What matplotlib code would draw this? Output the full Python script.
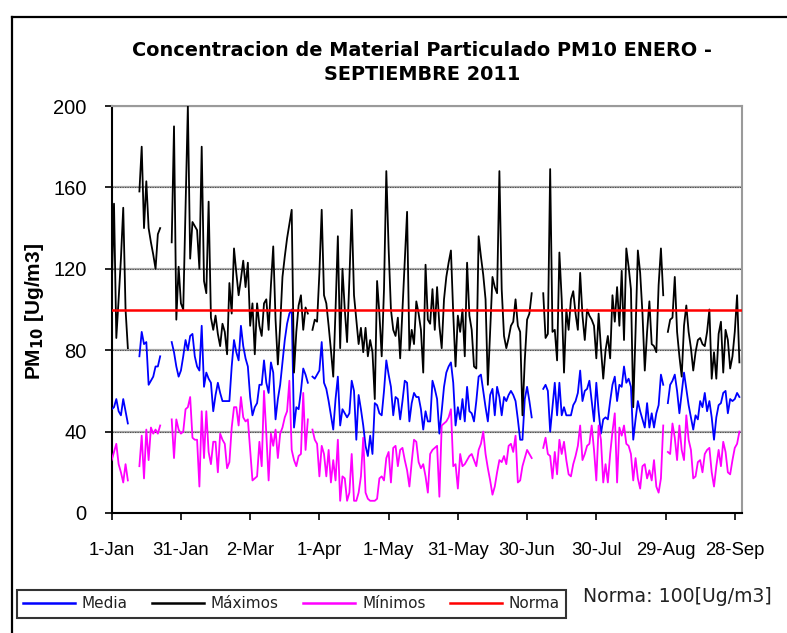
import numpy as np
import pandas as pd
import matplotlib
matplotlib.use("Agg")
import matplotlib.pyplot as plt
from matplotlib.lines import Line2D

nan = np.nan

# ---------------- data (daily values, 2011-01-01 .. 2011-09-30) ----------------
maximos = [
    # Jan
    110, 152, 86, 105, 125, 150, 100, 81, nan, nan, nan, nan, 158, 180, 140, 163,
    140, 133, 127, 120, 137, 140, nan, nan, nan, nan, 133, 190, 95, 121, 103,
    # Feb
    100, 150, 200, 125, 143, 141, 139, 120, 180, 114, 108, 153, 96, 90, 97, 88,
    82, 93, 89, 78, 113, 98, 130, 118, 107, 115, 124, 111,
    # Mar
    123, 92, 103, 78, 103, 92, 87, 103, 105, 90, 112, 131, 95, 73, 92, 116,
    126, 135, 142, 149, 69, 89, 102, 107, 90, 101, 98, nan, 90, 95, 94,
    # Apr
    118, 149, 107, 103, 92, 80, 67, 100, 136, 81, 120, 100, 84, 115, 149, 107,
    95, 83, 91, 79, 91, 77, 85, 79, 56, 114, 98, 77, 110, 168,
    # May
    130, 100, 90, 87, 96, 76, 100, 125, 148, 80, 90, 83, 104, 98, 90, 69,
    122, 95, 93, 110, 90, 111, 92, 81, 105, 116, 123, 129, 98, 72, 97,
    # Jun
    89, 100, 77, 123, 97, 90, 72, 71, 136, 126, 117, 105, 63, 90, 116, 111,
    108, 168, 110, 87, 81, 86, 92, 94, 105, 92, 89, 48, 75, 95,
    # Jul
    98, 108, nan, nan, nan, nan, 108, 86, 88, 169, 89, 90, 75, 128, 105, 69,
    100, 90, 105, 109, 98, 90, 118, 97, 85, 100, 97, 95, 92, 76, 98,
    # Aug
    81, 66, 80, 87, 76, 107, 94, 111, 92, 119, 85, 130, 121, 110, 52, 89,
    129, 118, 98, 70, 89, 104, 83, 82, 79, 112, 130, 107, nan, 89, 95,
    # Sep
    96, 116, 89, 77, 67, 92, 102, 89, 81, 70, 79, 85, 86, 83, 82, 89,
    100, 66, 79, 66, 88, 94, 69, 90, 85, 71, 77, 89, 107, 74,
]

media = [
    # Jan
    51, 52, 56, 50, 48, 56, 50, 44, nan, nan, nan, nan, 77, 89, 83, 84,
    63, 65, 67, 72, 72, 77, nan, nan, nan, nan, 84, 79, 72, 67, 70,
    # Feb
    77, 85, 80, 87, 88, 77, 72, 70, 92, 62, 69, 66, 64, 50, 58, 64,
    59, 55, 55, 55, 55, 72, 85, 79, 75, 92, 82, 76,
    # Mar
    72, 57, 48, 52, 54, 63, 63, 75, 64, 59, 74, 69, 46, 56, 63, 74,
    85, 93, 98, 100, 42, 52, 51, 60, 71, 68, 64, nan, 67, 66, 68,
    # Apr
    70, 84, 64, 61, 55, 48, 41, 56, 67, 43, 51, 49, 47, 49, 65, 60,
    36, 58, 51, 43, 33, 28, 38, 29, 54, 53, 49, 48, 60, 75,
    # May
    68, 62, 48, 57, 56, 46, 55, 65, 64, 45, 54, 59, 57, 57, 51, 41,
    50, 45, 45, 65, 61, 56, 39, 50, 62, 69, 72, 74, 64, 43, 52,
    # Jun
    46, 56, 45, 62, 50, 49, 45, 55, 67, 68, 60, 52, 45, 58, 61, 48,
    62, 57, 48, 57, 55, 58, 60, 58, 55, 46, 36, 36, 56, 62,
    # Jul
    55, 47, nan, nan, nan, nan, 61, 63, 60, 40, 52, 64, 48, 64, 48, 52,
    48, 48, 48, 53, 55, 59, 70, 55, 60, 61, 65, 55, 45, 64, 50,
    # Aug
    39, 46, 47, 46, 55, 63, 67, 55, 63, 62, 72, 64, 66, 62, 36, 46,
    55, 50, 46, 42, 54, 42, 49, 42, 49, 53, 68, 63, nan, 54, 63,
    # Sep
    65, 68, 60, 49, 59, 69, 61, 53, 47, 41, 48, 46, 55, 52, 59, 50,
    55, 47, 36, 47, 53, 54, 59, 60, 49, 56, 55, 56, 59, 57,
]

minimos = [
    # Jan
    26, 30, 34, 24, 20, 15, 24, 16, nan, nan, nan, nan, 23, 38, 17, 41,
    26, 42, 39, 41, 39, 43, nan, nan, nan, nan, 46, 27, 46, 41, 39,
    # Feb
    40, 51, 52, 57, 37, 36, 36, 13, 50, 27, 50, 30, 24, 35, 35, 20,
    39, 36, 34, 22, 25, 42, 52, 52, 43, 57, 47, 45,
    # Mar
    46, 31, 16, 17, 18, 35, 23, 60, 39, 16, 39, 33, 41, 27, 39, 42,
    47, 50, 65, 31, 26, 23, 28, 29, 59, 31, 46, nan, 41, 36, 34,
    # Apr
    18, 33, 29, 18, 31, 15, 26, 16, 36, 6, 18, 17, 6, 10, 29, 6,
    6, 10, 18, 37, 10, 7, 6, 6, 6, 7, 17, 18, 16, 27,
    # May
    30, 15, 32, 33, 23, 31, 32, 26, 21, 13, 25, 36, 35, 25, 22, 24,
    18, 10, 29, 31, 32, 33, 8, 43, 44, 45, 47, 51, 23, 24, 12,
    # Jun
    29, 23, 24, 26, 28, 29, 26, 23, 31, 34, 40, 29, 22, 16, 9, 13,
    20, 26, 25, 28, 24, 33, 34, 30, 38, 15, 16, 23, 27, 31,
    # Jul
    29, 27, nan, nan, nan, nan, 32, 37, 29, 28, 17, 30, 19, 36, 29, 35,
    26, 19, 18, 24, 28, 33, 43, 26, 29, 33, 34, 43, 31, 16, 43,
    # Aug
    36, 15, 24, 15, 29, 40, 49, 15, 42, 38, 43, 34, 33, 29, 16, 27,
    17, 12, 23, 24, 17, 21, 16, 26, 13, 10, 17, 43, nan, 30, 29,
    # Sep
    44, 37, 26, 43, 31, 26, 48, 36, 31, 17, 18, 25, 26, 20, 29, 31,
    32, 20, 13, 23, 31, 23, 35, 30, 20, 19, 26, 32, 34, 40,
]

norma = 100
start_date = "2011-01-01"
tick_dates = ["2011-01-01", "2011-01-31", "2011-03-02", "2011-04-01", "2011-05-01",
              "2011-05-31", "2011-06-30", "2011-07-30", "2011-08-29", "2011-09-28"]
tick_labels = ["1-Jan", "31-Jan", "2-Mar", "1-Apr", "1-May",
               "31-May", "30-Jun", "30-Jul", "29-Aug", "28-Sep"]
y_ticks = [0, 40, 80, 120, 160, 200]

dates = pd.date_range(start_date, periods=len(maximos), freq="D")

# ---------------- figure ----------------
W, H = 787, 633
fig = plt.figure(figsize=(W / 100, H / 100), dpi=100)
ax = fig.add_axes([111.7 / W, 1 - 513 / H, (741.7 - 111.7) / W, (513 - 106) / H])

tick_font = "Liberation Sans"
title_font = "DejaVu Sans"

# gridlines
for yv in y_ticks[1:]:
    ax.axhline(yv, color="#a6a6a6", lw=1.6, zorder=1)
    ax.axhline(yv, color="#404040", lw=0.6, ls=(0, (1.5, 1.5)), zorder=1.1)

ax.plot(dates, media, color="#0000FF", lw=1.3, zorder=3)
ax.plot(dates, maximos, color="#000000", lw=1.3, zorder=3)
ax.plot(dates, minimos, color="#FF00FF", lw=1.3, zorder=3)
ax.plot([dates[0], pd.Timestamp("2011-10-01")], [norma, norma], color="#FF0000", lw=1.8, zorder=4)

ax.set_xlim(pd.Timestamp("2011-01-01"), pd.Timestamp("2011-10-01"))
ax.set_ylim(0, 200)
ax.set_yticks(y_ticks)
ax.set_yticklabels([str(v) for v in y_ticks], fontsize=14.5, family=tick_font)
ax.set_xticks(pd.to_datetime(tick_dates))
ax.set_xticklabels(tick_labels, fontsize=13.3, family=tick_font)
ax.tick_params(axis="y", direction="out", length=5, width=1.2, pad=13, colors="black")
ax.tick_params(axis="x", direction="out", length=5, width=1.2, pad=16, colors="black")

for s in ["left", "bottom"]:
    ax.spines[s].set_color("black")
    ax.spines[s].set_linewidth(1.5)
for s in ["right", "top"]:
    ax.spines[s].set_color("#9a9a9a")
    ax.spines[s].set_linewidth(1.5)

# axis label
fig.text(35 / W, 1 - 312 / H, r"PM$_{\mathbf{10}}$ [Ug/m3]", rotation=90, ha="center", va="center",
         fontsize=15, fontweight="bold", family=tick_font)

# title
fig.text(422 / W, 1 - 50 / H, "Concentracion de Material Particulado PM10 ENERO -",
         ha="center", va="center", fontsize=13.9, fontweight="bold", family=title_font)
fig.text(422 / W, 1 - 75 / H, "SEPTIEMBRE 2011",
         ha="center", va="center", fontsize=13.9, fontweight="bold", family=title_font)

# outer frame (top and left)
fig.add_artist(Line2D([12 / W, 12 / W], [0, 1 - 17 / H], transform=fig.transFigure, color="black", lw=1.6))
fig.add_artist(Line2D([12 / W, 1], [1 - 17 / H, 1 - 17 / H], transform=fig.transFigure, color="black", lw=1.6))

# legend
handles = [Line2D([], [], color="#0000FF", lw=1.8),
           Line2D([], [], color="#000000", lw=1.8),
           Line2D([], [], color="#FF00FF", lw=1.8),
           Line2D([], [], color="#FF0000", lw=1.8)]
leg = fig.legend(handles, ["Media", "Máximos", "Mínimos", "Norma"], loc="center",
                 bbox_to_anchor=(291.5 / W, 1 - 604 / H), ncol=4, frameon=True, fancybox=False,
                 edgecolor="black", prop={"family": title_font, "size": 11},
                 handlelength=3.4, handletextpad=0.45, columnspacing=1.6, borderpad=0.4)
leg.get_frame().set_linewidth(1.5)
for t in leg.get_texts():
    t.set_color("#222222")

fig.text(583 / W, 1 - 597 / H, "Norma: 100[Ug/m3]", ha="left", va="center",
         fontsize=13.6, family=title_font, color="#222222")

fig.savefig("out.png", dpi=100)
